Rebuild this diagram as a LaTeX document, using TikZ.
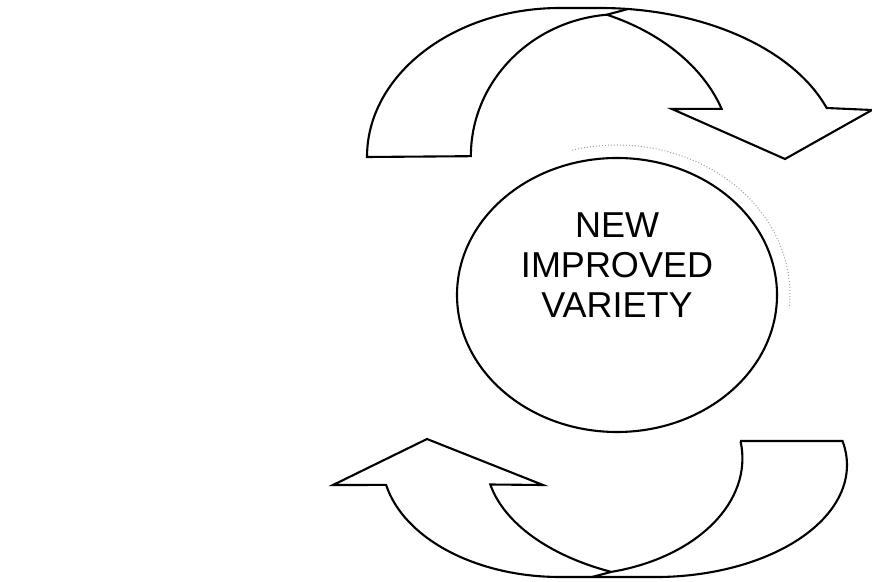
\documentclass[tikz,border=0pt]{standalone}
\usepackage{fontspec}
\usetikzlibrary{shapes.geometric}
\newfontfamily\labelfont{Liberation Sans}

\begin{document}
\begin{tikzpicture}[x=1pt, y=1pt, line width=2.1pt, line join=miter]

  \useasboundingbox (0,0) rectangle (872,581);

  % -- Top curved arrow --
  \draw (367,424) arc[start angle=180, end angle=90, x radius=193, y radius=149]
    -- (600,573) arc[start angle=90, end angle=19.2, x radius=240, y radius=149]
    -- (872,471) -- (785,422) -- (672,472) -- (721.6,472.2)
    arc[start angle=18, end angle=65.8, x radius=212, y radius=156]
    coordinate (topcusp)
    arc[start angle=95, end angle=180, x radius=149, y radius=142]
    -- cycle;
  \coordinate (topseam) at (627,571.7);
  \draw (topcusp) -- (topseam);

  % -- Bottom curved arrow --
  \draw (741,140) -- (842.5,140)
    arc[start angle=12.4, end angle=-90, x radius=192, y radius=112]
    -- (560,4) arc[start angle=270, end angle=192.3, x radius=178, y radius=117]
    -- (333,96) -- (427,142) -- (543,96) -- (490.3,96.5)
    arc[start angle=191.5, end angle=245.5, x radius=214, y radius=123]
    coordinate (botcusp)
    arc[start angle=-76, end angle=8, x radius=173, y radius=117]
    -- cycle;
  \coordinate (botseam) at (592,4);
  \draw (botcusp) -- (botseam);

  % -- Variety ellipse --
  \node[draw, ellipse, minimum width=320pt, minimum height=274pt, inner sep=0pt] (variety) at (617,286) {};
  \node[font=\labelfont\fontsize{36}{40}\selectfont, align=center] (varietylabel) at (617,316) {NEW\\IMPROVED\\VARIETY};

  % -- Faint shadow arc --
  \draw[dotted, line width=1pt, gray!75] (variety.center) ++(105:173 and 150)
    arc[start angle=105, end angle=-5, x radius=173, y radius=150];

\end{tikzpicture}
\end{document}
